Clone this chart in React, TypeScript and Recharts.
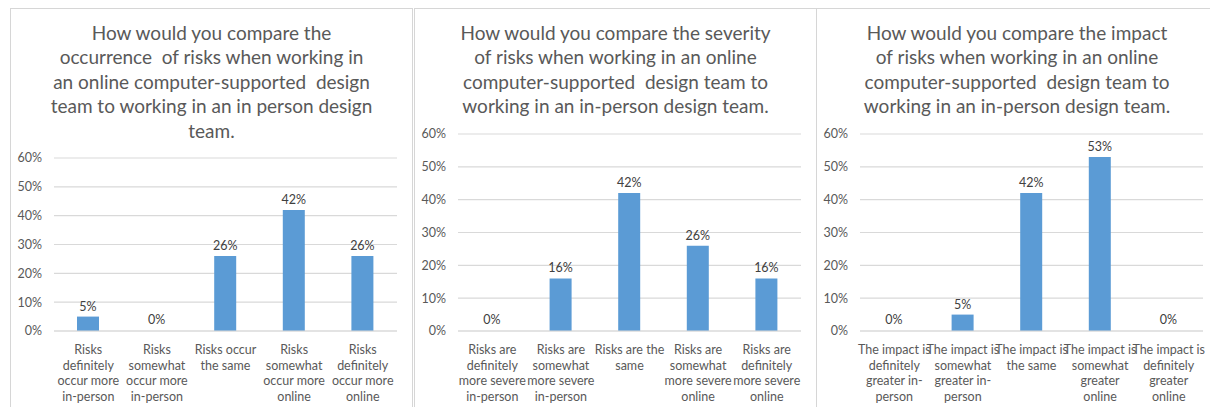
import React from "react";
import { BarChart, Bar, XAxis, YAxis, CartesianGrid, LabelList, Rectangle } from "recharts";

// tick labels (line breaks as in the picture)
const occurrenceCats = [
  "Risks\ndefinitely\noccur more\nin-person",
  "Risks\nsomewhat\noccur more\nin-person",
  "Risks occur\nthe same",
  "Risks\nsomewhat\noccur more\nonline",
  "Risks\ndefinitely\noccur more\nonline",
];
const occurrenceValues = [5, 0, 26, 42, 26];

const severityCats = [
  "Risks are\ndefinitely\nmore severe\nin-person",
  "Risks are\nsomewhat\nmore severe\nin-person",
  "Risks are the\nsame",
  "Risks are\nsomewhat\nmore severe\nonline",
  "Risks are\ndefinitely\nmore severe\nonline",
];
const severityValues = [0, 16, 42, 26, 16];

const impactCats = [
  "The impact is\ndefinitely\ngreater in-\nperson",
  "The impact is\nsomewhat\ngreater in-\nperson",
  "The impact is\nthe same",
  "The impact is\nsomewhat\ngreater\nonline",
  "The impact is\ndefinitely\ngreater\nonline",
];
const impactValues = [0, 5, 42, 53, 0];

const yTicks = [0, 10, 20, 30, 40, 50, 60];

const titles = [
  "How would you compare the\noccurrence  of risks when working in\nan online computer-supported  design\nteam to working in an in person design\nteam.",
  "How would you compare the severity\nof risks when working in an online\ncomputer-supported  design team to\nworking in an in-person design team.",
  "How would you compare the impact\nof risks when working in an online\ncomputer-supported  design team to\nworking in an in-person design team.",
];

const FONT = "Lato, 'Open Sans', sans-serif";
const GREY = "#595959";
const BORDER = "#d6d6d6";

const WrappedTick = (props: any) => {
  const { x, y, payload } = props;
  const lines = String(payload.value).split("\n");
  return (
    <text x={x} y={y} textAnchor="middle" fill={GREY} fontSize={12.5} fontFamily={FONT}>
      {lines.map((l, i) => (
        <tspan key={i} x={x} dy={i === 0 ? 21 : 15.7}>
          {l}
        </tspan>
      ))}
    </text>
  );
};

// zero bars get a tiny min height so their label still shows, but draw nothing
const BarShape = (props: any) => {
  if (!props.value) return <g />;
  return <Rectangle {...props} />;
};

const Panel = ({ cats, values, width, height, right }: any) => {
  const data = cats.map((c: string, i: number) => ({ name: c, value: values[i] }));
  return (
    <BarChart
      width={width}
      height={height}
      data={data}
      margin={{ top: 18, right, bottom: 6, left: 0 }}
      barSize={22}
    >
      <CartesianGrid vertical={false} stroke="#d9d9d9" strokeWidth={1.2} />
      <XAxis
        dataKey="name"
        height={70}
        interval={0}
        tickLine={false}
        tickSize={0}
        axisLine={{ stroke: "#d9d9d9", strokeWidth: 1.2 }}
        tick={<WrappedTick />}
      />
      <YAxis
        width={44}
        domain={[0, 60]}
        ticks={yTicks}
        axisLine={false}
        tickLine={false}
        tickSize={0}
        tickMargin={12}
        tickFormatter={(v: number) => `${v}%`}
        tick={{ fill: GREY, fontSize: 12.5, fontFamily: FONT }}
      />
      <Bar dataKey="value" fill="#5b9bd5" minPointSize={1} shape={<BarShape />} isAnimationActive={false}>
        <LabelList
          dataKey="value"
          position="top"
          offset={6}
          formatter={(v: any) => `${v}%`}
          style={{ fill: "#404040", fontSize: 12.5, fontFamily: FONT }}
        />
      </Bar>
    </BarChart>
  );
};

const box = (left: number, width: number): React.CSSProperties => ({
  position: "absolute",
  left,
  top: 8,
  width,
  height: 420,
  boxSizing: "border-box",
  border: `1px solid ${BORDER}`,
  background: "#fff",
});

const titleStyle = (left: number, width: number): React.CSSProperties => ({
  position: "absolute",
  left,
  top: 21,
  width,
  textAlign: "center",
  whiteSpace: "pre",
  fontFamily: FONT,
  fontSize: 19,
  lineHeight: "24.4px",
  color: GREY,
});

export default function App() {
  return (
    <div style={{ position: "fixed", left: 0, top: 0, width: 1210, height: 407, overflow: "hidden", background: "#fff" }}>
      <div style={box(10, 403)} />
      <div style={box(414, 403)} />
      <div style={box(816, 420)} />
      <div style={titleStyle(10, 403)}>{titles[0]}</div>
      <div style={titleStyle(414, 403)}>{titles[1]}</div>
      <div style={titleStyle(816, 402)}>{titles[2]}</div>
      <div style={{ position: "absolute", left: 10, top: 140 }}>
        <Panel cats={occurrenceCats} values={occurrenceValues} width={402} height={267} right={15} />
      </div>
      <div style={{ position: "absolute", left: 414, top: 116 }}>
        <Panel cats={severityCats} values={severityValues} width={402} height={291} right={15} />
      </div>
      <div style={{ position: "absolute", left: 816, top: 116 }}>
        <Panel cats={impactCats} values={impactValues} width={394} height={291} right={7} />
      </div>
    </div>
  );
}
